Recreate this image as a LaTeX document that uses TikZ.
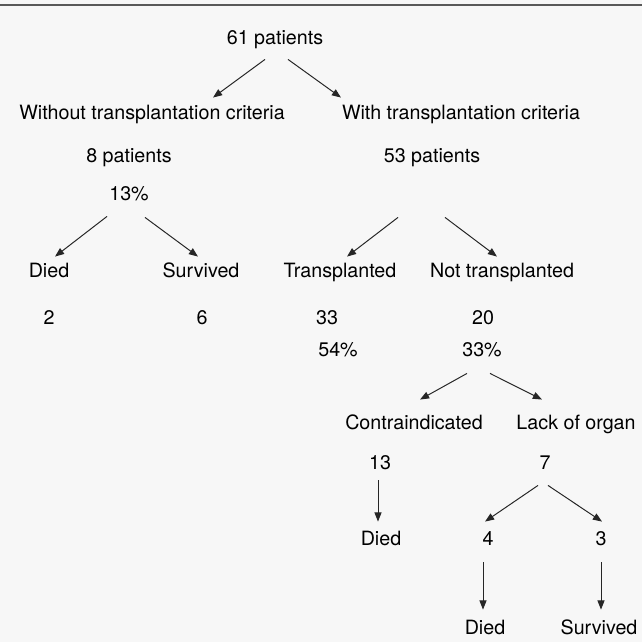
\documentclass[tikz,border=0pt]{standalone}
\usepackage{fontspec}
\setmainfont{TeX Gyre Heros}
\usetikzlibrary{arrows.meta}
\usetikzlibrary{calc}

\tikzset{
	lbl/.style={inner sep=0pt, text height=10pt, text depth=3pt, font=\fontsize{14}{16}\selectfont, text=black},
	arr/.style={-{Triangle[length=6.5pt,width=5pt]}, line width=0.7pt, draw=black!85},
}

\begin{document}
\begin{tikzpicture}[x=0.025cm, y=-0.025cm]

	% page area, rule at the top of the scan
	\useasboundingbox (0,0) rectangle (642,642);
	\fill[black!3] (0,0) rectangle (642,642);
	\draw[black!65, line width=1.2pt] (0,5) -- (642,5);

	% first split: criteria
	\node[lbl] (all) at (275,40) {61 patients};
	\node[lbl] (without) at (152,115) {Without transplantation criteria};
	\node[lbl] (with) at (461,115) {With transplantation criteria};
	\node[lbl] (nwithout) at (129,158) {8 patients};
	\node[lbl] (nwith) at (432,158) {53 patients};
	\node[lbl] (pwithout) at (129,196) {13\%};

	% second level
	\node[lbl] (died) at (49,273) {Died};
	\node[lbl] (survived) at (201,273) {Survived};
	\node[lbl] (transpl) at (340,273) {Transplanted};
	\node[lbl] (nottranspl) at (502,273) {Not transplanted};
	\node[lbl] (ndied) at (49,320) {2};
	\node[lbl] (nsurvived) at (202,320) {6};
	\node[lbl] (ntranspl) at (327,320) {33};
	\node[lbl] (nnottranspl) at (483,320) {20};
	\node[lbl] (ptranspl) at (338,352) {54\%};
	\node[lbl] (pnottranspl) at (482,352) {33\%};

	% not transplanted: reasons
	\node[lbl] (contra) at (414,425) {Contraindicated};
	\node[lbl] (lack) at (576,425) {Lack of organ};
	\node[lbl] (ncontra) at (380,465) {13};
	\node[lbl] (nlack) at (545,465) {7};
	\node[lbl] (contradied) at (381,541) {Died};
	\node[lbl] (lackdied) at (488,541) {4};
	\node[lbl] (lacksurv) at (601,541) {3};
	\node[lbl] (lackdiedlbl) at (485,630) {Died};
	\node[lbl] (lacksurvlbl) at (599,630) {Survived};

	% arrows, all of them a bit off the text centres as in the original
	\draw[arr] ($(all.south)+(-10,10)$) -- ($(without.north)+(61,-8)$);
	\draw[arr] ($(all.south)+(13,10)$) -- ($(with.north)+(-120,-8)$);
	\draw[arr] ($(pwithout.south)+(-22,11)$) -- ($(died.north)+(6,-7)$);
	\draw[arr] ($(pwithout.south)+(16,12)$) -- ($(survived.north)+(-3,-7)$);
	\draw[arr] ($(nwith.south)+(-34,50)$) -- ($(transpl.north)+(7,-7)$);
	\draw[arr] ($(nwith.south)+(13,50)$) -- ($(nottranspl.north)+(-5,-7)$);
	\draw[arr] ($(pnottranspl.south)+(-15,12)$) -- ($(contra.north)+(6,-16)$);
	\draw[arr] ($(pnottranspl.south)+(8,12)$) -- ($(lack.north)+(-34,-16)$);
	\draw[arr] ($(ncontra.south)+(-2,6)$) -- ($(contradied.north)+(-3,-10)$);
	\draw[arr] ($(nlack.south)+(-7,11)$) -- ($(lackdied.north)+(-3,-10)$);
	\draw[arr] ($(nlack.south)+(3,11)$) -- ($(lacksurv.north)+(1,-10)$);
	\draw[arr] ($(lackdied.south)+(-5,12)$) -- ($(lackdiedlbl.north)+(-2,-11)$);
	\draw[arr] ($(lacksurv.south)+(0,12)$) -- ($(lacksurvlbl.north)+(2,-11)$);

\end{tikzpicture}
\end{document}
